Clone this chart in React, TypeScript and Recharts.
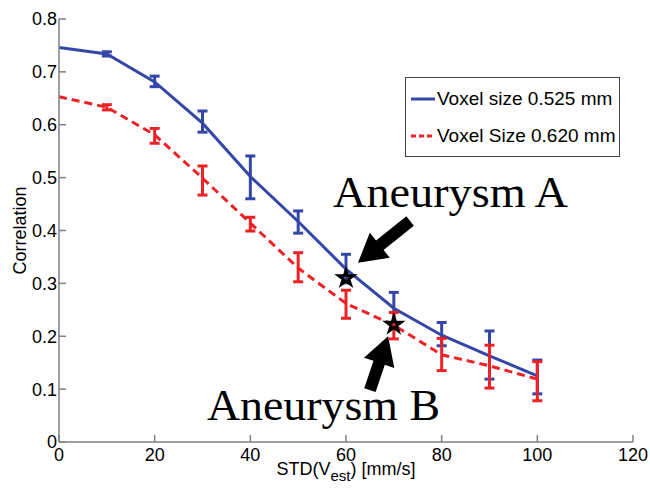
import {
  ComposedChart,
  Line,
  Scatter,
  XAxis,
  YAxis,
  ErrorBar,
  Legend,
  Label,
  ReferenceLine,
} from 'recharts';

const stdValues = [0, 10, 20, 30, 40, 50, 60, 70, 80, 90, 100];

const blueMean = [0.746, 0.734, 0.681, 0.603, 0.502, 0.417, 0.327, 0.253, 0.202, 0.163, 0.125];
const blueLow = [null, 0.730, 0.672, 0.586, 0.46, 0.395, 0.301, 0.225, 0.182, 0.119, 0.091];
const blueHigh = [null, 0.738, 0.692, 0.626, 0.541, 0.437, 0.355, 0.283, 0.226, 0.21, 0.155];

const redMean = [0.653, 0.633, 0.581, 0.499, 0.414, 0.329, 0.262, 0.221, 0.165, 0.144, 0.119];
const redLow = [null, 0.628, 0.565, 0.467, 0.399, 0.303, 0.234, 0.195, 0.135, 0.102, 0.078];
const redHigh = [null, 0.638, 0.593, 0.522, 0.425, 0.358, 0.287, 0.245, 0.196, 0.183, 0.152];

const starPoints = [
  { x: 60, y: 0.31 },
  { x: 70, y: 0.222 },
];

const xTicks = [0, 20, 40, 60, 80, 100, 120];
const yTicks = [0, 0.1, 0.2, 0.3, 0.4, 0.5, 0.6, 0.7, 0.8];

const BLUE = '#3447a8';
const RED = '#ec2227';
const AXIS = '#808080';
const SANS = "'Liberation Sans', Arial, sans-serif";
const SERIF = "'Liberation Serif', 'Times New Roman', serif";

const table = stdValues.map((x, i) => ({
  x,
  blue: blueMean[i],
  red: redMean[i],
  blueErr: blueLow[i] == null ? null : [blueMean[i] - (blueLow[i] as number), (blueHigh[i] as number) - blueMean[i]],
  redErr: redLow[i] == null ? null : [redMean[i] - (redLow[i] as number), (redHigh[i] as number) - redMean[i]],
}));

const tickFont = { fontSize: 18, fill: '#000', fontFamily: SANS };

// thick black annotation arrow drawn between the segment ends
function Arrow(props: any) {
  const { x1, y1, x2, y2 } = props;
  const dx = x2 - x1;
  const dy = y2 - y1;
  const len = Math.sqrt(dx * dx + dy * dy);
  const ux = dx / len;
  const uy = dy / len;
  const nx = -uy;
  const ny = ux;
  const head = 28;
  const shaft = 6;
  const wing = 16;
  const bx = x2 - ux * head;
  const by = y2 - uy * head;
  const pts = [
    [x1 + nx * shaft, y1 + ny * shaft],
    [bx + nx * shaft, by + ny * shaft],
    [bx + nx * wing, by + ny * wing],
    [x2, y2],
    [bx - nx * wing, by - ny * wing],
    [bx - nx * shaft, by - ny * shaft],
    [x1 - nx * shaft, y1 - ny * shaft],
  ];
  return <polygon points={pts.map((p) => p.join(',')).join(' ')} fill="#000" />;
}

function LegendBox() {
  const row = (color: string, dash: string | undefined, text: string) => (
    <div style={{ display: 'flex', alignItems: 'center', height: 37 }}>
      <svg width={26} height={10} style={{ marginRight: 1 }}>
        <line x1={1} y1={5} x2={25} y2={5} stroke={color} strokeWidth={3} strokeDasharray={dash} />
      </svg>
      <span>{text}</span>
    </div>
  );
  return (
    <div
      style={{
        border: '1px solid #444',
        background: '#fff',
        width: 209,
        height: 76,
        boxSizing: 'content-box',
        padding: '2px 0 0 4px',
        fontFamily: SANS,
        fontSize: 19,
        color: '#000',
        whiteSpace: 'nowrap',
      }}
    >
      {row(BLUE, undefined, 'Voxel size 0.525 mm')}
      {row(RED, '5 3', 'Voxel Size 0.620 mm')}
    </div>
  );
}

export default function App() {
  return (
    <div style={{ position: 'absolute', left: 0, top: 0, width: 650, height: 489 }}>
      <ComposedChart
        width={650}
        height={489}
        data={table}
        margin={{ top: 19, right: 17, left: 0, bottom: 0 }}
      >
        <XAxis
          dataKey="x"
          type="number"
          domain={[0, 120]}
          ticks={xTicks}
          height={47}
          stroke={AXIS}
          strokeWidth={1.5}
          tickSize={-7}
          tickMargin={13}
          tick={tickFont}
        >
          <Label
            content={({ viewBox }: any) => (
              <text
                x={viewBox.x + viewBox.width / 2}
                y={viewBox.y + 33}
                textAnchor="middle"
                fontSize={18}
                fontFamily={SANS}
                fill="#000"
              >
                STD(V
                <tspan fontSize={15} dy={6}>est</tspan>
                <tspan dy={-6}>) [mm/s]</tspan>
              </text>
            )}
          />
        </XAxis>
        <XAxis
          xAxisId="top"
          orientation="top"
          type="number"
          domain={[0, 120]}
          ticks={xTicks}
          height={0}
          stroke={AXIS}
          strokeWidth={1.5}
          tickSize={-7}
          tick={() => <g />}
        />
        <YAxis
          type="number"
          domain={[0, 0.8]}
          ticks={yTicks}
          width={59}
          stroke={AXIS}
          strokeWidth={1.5}
          tickSize={-7}
          tickMargin={9}
          tick={tickFont}
          tickFormatter={(v: number) => String(Number(v.toFixed(1)))}
        >
          <Label
            value="Correlation"
            angle={-90}
            position="center"
            dx={-10}
            style={{ fontSize: 18, fill: '#000', fontFamily: SANS }}
          />
        </YAxis>
        <YAxis
          yAxisId="right"
          orientation="right"
          type="number"
          domain={[0, 0.8]}
          ticks={yTicks}
          width={0}
          stroke={AXIS}
          strokeWidth={1.5}
          tickSize={-7}
          tick={() => <g />}
        />
        <Legend
          verticalAlign="middle"
          align="center"
          content={() => <LegendBox />}
          wrapperStyle={{ position: 'absolute', left: 405, top: 77, width: 220 }}
        />
        <Line
          dataKey="blue"
          name="Voxel size 0.525 mm"
          stroke={BLUE}
          strokeWidth={3}
          dot={false}
          type="linear"
          isAnimationActive={false}
        >
          <ErrorBar dataKey="blueErr" width={5} stroke={BLUE} strokeWidth={3} />
        </Line>
        <Line
          dataKey="red"
          name="Voxel Size 0.620 mm"
          stroke={RED}
          strokeWidth={3}
          strokeDasharray="8 5"
          dot={false}
          type="linear"
          isAnimationActive={false}
        >
          <ErrorBar dataKey="redErr" width={5} stroke={RED} strokeWidth={3} />
        </Line>
        <Scatter
          data={starPoints}
          dataKey="y"
          shape="star"
          size={26}
          fill="none"
          stroke="#000"
          strokeWidth={3}
          legendType="none"
          isAnimationActive={false}
        />
        <ReferenceLine
          segment={[
            { x: 73.4, y: 0.418 },
            { x: 62.5, y: 0.339 },
          ]}
          shape={Arrow}
          ifOverflow="visible"
        />
        <ReferenceLine
          segment={[
            { x: 65.0, y: 0.098 },
            { x: 68.8, y: 0.2 },
          ]}
          shape={Arrow}
          ifOverflow="visible"
        />
      </ComposedChart>
      <svg
        width={650}
        height={489}
        style={{ position: 'absolute', left: 0, top: 0, pointerEvents: 'none' }}
      >
        <text x={333} y={207} fontSize={44} fontFamily={SERIF} fill="#000" textLength={235} lengthAdjust="spacingAndGlyphs">
          Aneurysm A
        </text>
        <text x={207} y={420} fontSize={44} fontFamily={SERIF} fill="#000" textLength={233} lengthAdjust="spacingAndGlyphs">
          Aneurysm B
        </text>
      </svg>
    </div>
  );
}
